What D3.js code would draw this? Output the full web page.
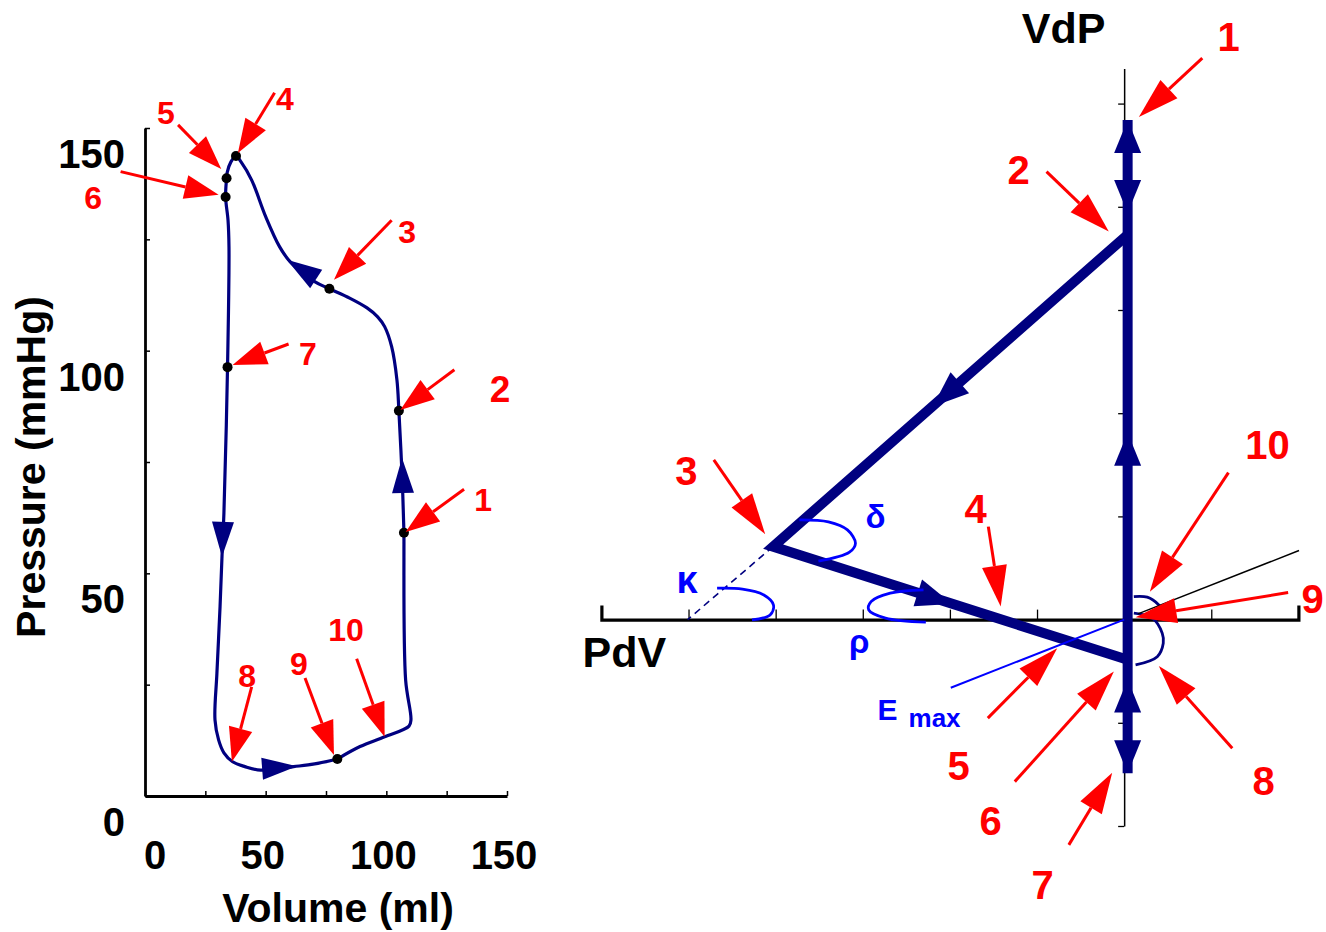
<!DOCTYPE html>
<html><head><meta charset="utf-8">
<script src="https://cdn.jsdelivr.net/npm/d3@7"></script>
<style>body{margin:0;background:#fff} svg{display:block}</style>
</head><body>
<svg id="c" width="1326" height="932"></svg>
<script>
// ================= LEFT PANEL DATA (pressure–volume loop) =================
const volTicks = [0,25,50,75,100,125,150];
const volLabels = [0,50,100,150];
const presTicks = [0,25,50,75,100,125,150];
const presLabels = [0,50,100,150];

const loopVolume   = [79.7,89.1,99.3,109.4,110.2,108.0,107.3,107.3,106.5,105.2,104.4,102.2,99.3,96.4,92.0,84.8,76.4,70.3,60.1,55.8,50.0,44.2,39.8,37.7,35.6,34.0,33.8,33.4,34.4,34.8,34.2,32.7,31.9,31.1,29.8,29.0,30.5,32.7,36.3,41.4,47.9,61.6,70.3,79.7];
const loopPressure = [8.3,11.1,13.3,15.7,17.1,26.0,57.5,59.1,72.1,86.5,93.4,100.9,105.4,107.6,109.6,111.8,113.9,115.5,120.0,123.3,130.1,138.3,142.4,143.7,142.4,139.9,138.7,134.5,129.3,123.3,96.3,63.5,53.7,42.5,27.6,17.1,12.6,9.7,7.7,6.6,5.8,6.6,7.2,8.3];

// marked points on the loop
const dotVolume   = [107.3,105.2,76.4,37.7,33.8,33.4,34.2,79.7];
const dotPressure = [59.1,86.5,113.9,143.7,138.7,134.5,96.3,8.3];

// direction arrows on the loop: tip and a point behind it
const loopArrowTipVol  = [106.5,58.8,31.9,63.0];
const loopArrowTipPres = [75.9,120.4,53.7,6.7];
const loopArrowFromVol  = [106.9,70.9,32.3,48.5];
const loopArrowFromPres = [68.3,116.1,61.3,6.1];

// red numbered callouts (left)
const leftNoteText   = ["1","2","3","4","5","6","7","8","9","10"];
const leftNoteTextVol  = [140.1,147.1,108.6,58.0,8.7,-21.5,67.5,42.3,63.8,83.3];
const leftNoteTextPres = [66.5,91.2,126.6,156.5,153.4,134.3,99.3,26.9,29.6,37.3];
const leftNoteTailVol  = [132.2,128.2,102.2,53.7,13.7,-10.1,59.5,44.2,66.3,87.7];
const leftNoteTailPres = [68.9,95.7,129.3,157.9,150.7,140.2,101.5,24.5,26.5,30.8];
const leftNoteTipVol   = [108.0,105.8,78.3,38.5,31.6,30.5,36.3,36.0,78.3,99.3];
const leftNoteTipPres  = [59.3,86.7,115.9,144.4,140.8,135.0,96.8,7.7,9.2,13.3];

// ================= RIGHT PANEL DATA (PdV / VdP diagram) =================
const pdvTicks = [-6,-5,-4,-3,-2,-1,0,1,2];
const vdpTicks = [-2,-1,0,1,2,3,4,5];

const stemPdV = [0.04,0.04];
const stemVdP = [4.84,-1.49];
const wedgePdV = [0.04,-4.03,0.04];
const wedgeVdP = [3.73,0.707,-0.39];

const stemArrowTip  = [4.84,3.94,1.81,-0.58,-1.49];
const stemArrowFrom = [4.46,4.21,1.50,-0.89,-1.16];
const wedgeArrowTipPdV = [-2.196,-1.975];
const wedgeArrowTipVdP = [2.065,0.152];
const wedgeArrowFromPdV = [0.04,-4.03];
const wedgeArrowFromVdP = [3.73,0.707];

const dashPdV = [-4.03,-5.01];
const dashVdP = [0.707,0.0];
const emaxPdV = [0.0,-1.99];
const emaxVdP = [0.0,-0.66];
const tangentPdV = [0.158,2.007];
const tangentVdP = [0.055,0.669];

const deltaArcPdV = [-3.727,-3.394,-3.176,-3.084,-3.153,-3.509];
const deltaArcVdP = [0.966,0.947,0.869,0.740,0.653,0.566];
const kappaArcPdV = [-4.672,-4.381,-4.135,-4.025,-4.064,-4.272];
const kappaArcVdP = [0.304,0.295,0.239,0.142,0.045,-0.003];
const rhoArcPdV = [-2.303,-2.685,-2.905,-2.932,-2.739,-2.276];
const rhoArcVdP = [0.288,0.256,0.174,0.094,0.014,-0.025];
const upperArcPdV = [0.111,0.265,0.398,0.437];
const upperArcVdP = [0.223,0.217,0.142,0.094];
const lowerArcPdV = [0.111,0.323,0.437,0.449,0.380,0.131];
const lowerArcVdP = [0.062,0.014,-0.132,-0.229,-0.359,-0.439];

const greekText = ["δ","κ","ρ"];
const greekPdV = [-2.853,-5.017,-3.040];
const greekVdP = [0.891,0.259,-0.322];

const rightNoteText = ["1","2","3","4","5","6","7","8","9","10"];
const rightNoteTextPdV = [1.199,-1.212,-5.024,-1.706,-1.901,-1.534,-0.937,1.600,2.163,1.646];
const rightNoteTextVdP = [5.646,4.358,1.441,1.072,-1.418,-1.951,-2.571,-1.563,0.201,1.693];
const rightNoteTailPdV = [0.897,-0.891,-4.71,-1.559,-1.565,-1.255,-0.635,1.241,1.882,1.197];
const rightNoteTailVdP = [5.44,4.34,1.547,0.901,-0.955,-1.570,-2.183,-1.246,0.262,1.424];
const rightNoteTipPdV  = [0.169,-0.176,-4.12,-1.417,-0.768,-0.118,-0.137,0.398,0.131,0.295];
const rightNoteTipVdP  = [4.87,3.76,0.828,0.126,-0.277,-0.504,-1.483,-0.449,0.023,0.271];

// ================= DRAWING =================
const svg = d3.select("#c");
const FONT = "'Liberation Sans', Arial, Helvetica, sans-serif";
const NAVY = "#000080", RED = "#ff0000", BLUE = "#0000ff";

function headPts(tip, from, L, W) {
  const dx = tip[0]-from[0], dy = tip[1]-from[1];
  const d = Math.hypot(dx,dy), ux = dx/d, uy = dy/d;
  const bx = tip[0]-ux*L, by = tip[1]-uy*L, nx = -uy, ny = ux;
  return {base:[bx,by], pts:[[tip[0],tip[1]],[bx+nx*W/2,by+ny*W/2],[bx-nx*W/2,by-ny*W/2]]};
}
function drawHead(g, tip, from, L, W, color) {
  const h = headPts(tip, from, L, W);
  g.append("polygon").attr("points", h.pts.map(p=>p.join(",")).join(" ")).attr("fill", color);
  return h;
}
function drawCallout(g, tail, tip, L, W, lw) {
  const h = headPts(tip, tail, L, W);
  g.append("line").attr("x1",tail[0]).attr("y1",tail[1]).attr("x2",h.base[0]).attr("y2",h.base[1])
    .attr("stroke",RED).attr("stroke-width",lw);
  g.append("polygon").attr("points", h.pts.map(p=>p.join(",")).join(" ")).attr("fill", RED);
}

// ---------- LEFT ----------
const xL = d3.scaleLinear().domain([0,150]).range([145,507]);
const yL = d3.scaleLinear().domain([0,150]).range([796,128]);
const gL = svg.append("g");

const axB = gL.append("g").attr("transform",`translate(0,${yL(0)})`)
  .call(d3.axisTop(xL).tickValues(volTicks).tickSize(5).tickSizeOuter(0).tickFormat(""));
const axLft = gL.append("g").attr("transform",`translate(${xL(0)},0)`)
  .call(d3.axisRight(yL).tickValues(presTicks).tickSize(5).tickSizeOuter(0).tickFormat(""));
[axB, axLft].forEach(a => {
  a.select(".domain").attr("stroke","#000").attr("stroke-width",2.8);
  a.selectAll(".tick line").attr("stroke","#000").attr("stroke-width",1.5);
});

gL.selectAll("text.xl").data(volLabels).join("text")
  .attr("x", d => Math.max(xL(d)-3, xL(0)+10)).attr("y", yL(0)+59)
  .attr("text-anchor","middle").attr("dominant-baseline","central")
  .attr("font-family",FONT).attr("font-weight","bold").attr("font-size",40).text(d=>d);
gL.selectAll("text.yl").data(presLabels).join("text")
  .attr("x", xL(0)-20).attr("y", d => yL(d)+26)
  .attr("text-anchor","end").attr("dominant-baseline","central")
  .attr("font-family",FONT).attr("font-weight","bold").attr("font-size",40).text(d=>d);

gL.append("text").attr("x",(xL(0)+xL(150))/2+12).attr("y",922)
  .attr("text-anchor","middle").attr("font-family",FONT).attr("font-weight","bold")
  .attr("font-size",41).text("Volume (ml)");
gL.append("text").attr("transform",`translate(45,${(yL(0)+yL(150))/2+5}) rotate(-90)`)
  .attr("text-anchor","middle").attr("font-family",FONT).attr("font-weight","bold")
  .attr("font-size",41).text("Pressure (mmHg)");

const loopLine = d3.line().x(d=>xL(d[0])).y(d=>yL(d[1])).curve(d3.curveCatmullRom.alpha(0.5));
gL.append("path").datum(loopVolume.map((v,i)=>[v,loopPressure[i]]))
  .attr("d",loopLine).attr("fill","none").attr("stroke",NAVY).attr("stroke-width",3.2)
  .attr("stroke-linejoin","round");

loopArrowTipVol.forEach((v,i)=>{
  drawHead(gL,[xL(v),yL(loopArrowTipPres[i])],[xL(loopArrowFromVol[i]),yL(loopArrowFromPres[i])],35,22,NAVY);
});

gL.selectAll("circle.dot").data(dotVolume).join("circle")
  .attr("cx",d=>xL(d)).attr("cy",(d,i)=>yL(dotPressure[i])).attr("r",5).attr("fill","#000");

leftNoteText.forEach((t,i)=>{
  drawCallout(gL,[xL(leftNoteTailVol[i]),yL(leftNoteTailPres[i])],[xL(leftNoteTipVol[i]),yL(leftNoteTipPres[i])],34,24,3);
});
gL.selectAll("text.ln").data(leftNoteText).join("text")
  .attr("x",(d,i)=>xL(leftNoteTextVol[i])).attr("y",(d,i)=>yL(leftNoteTextPres[i]))
  .attr("text-anchor","middle").attr("dominant-baseline","central")
  .attr("font-family",FONT).attr("font-weight","bold").attr("fill",RED)
  .attr("font-size",d => d==="2" ? 37 : 32).text(d=>d);

// ---------- RIGHT ----------
const xR = d3.scaleLinear().domain([-6,2]).range([601.4,1298.4]);
const yR = d3.scaleLinear().domain([-2,5.34]).range([826,68.5]);
const gR = svg.append("g");

const axH = gR.append("g").attr("transform",`translate(0,${yR(0)})`)
  .call(d3.axisTop(xR).tickValues(pdvTicks).tickSize(10).tickSizeOuter(14).tickFormat(""));
axH.select(".domain").attr("stroke","#000").attr("stroke-width",3.2);
axH.selectAll(".tick line").attr("stroke","#000").attr("stroke-width",1.3);
const axV = gR.append("g").attr("transform",`translate(${xR(0)},0)`)
  .call(d3.axisLeft(yR).tickValues(vdpTicks).tickSize(6).tickSizeOuter(0).tickFormat(""));
axV.select(".domain").attr("stroke","#000").attr("stroke-width",1.5);
axV.selectAll(".tick line").attr("stroke","#000").attr("stroke-width",1.3);

const lineR = d3.line().x(d=>xR(d[0])).y(d=>yR(d[1]));
const smoothR = d3.line().x(d=>xR(d[0])).y(d=>yR(d[1])).curve(d3.curveCatmullRom.alpha(0.5));

// dashed extension
gR.append("path").datum(dashPdV.map((v,i)=>[v,dashVdP[i]])).attr("d",lineR)
  .attr("stroke",NAVY).attr("stroke-width",1.6).attr("stroke-dasharray","7,5").attr("fill","none");

// thick cycle
gR.append("path").datum(stemPdV.map((v,i)=>[v,stemVdP[i]])).attr("d",lineR)
  .attr("stroke",NAVY).attr("stroke-width",10).attr("fill","none");
gR.append("path").datum(wedgePdV.map((v,i)=>[v,wedgeVdP[i]])).attr("d",lineR)
  .attr("stroke",NAVY).attr("stroke-width",10).attr("fill","none").attr("stroke-linejoin","miter");

stemArrowTip.forEach((t,i)=>{
  drawHead(gR,[xR(stemPdV[0]),yR(t)],[xR(stemPdV[0]),yR(stemArrowFrom[i])],33,27,NAVY);
});
wedgeArrowTipPdV.forEach((v,i)=>{
  drawHead(gR,[xR(v),yR(wedgeArrowTipVdP[i])],[xR(wedgeArrowFromPdV[i]),yR(wedgeArrowFromVdP[i])],36,28,NAVY);
});

// angle arcs
[[deltaArcPdV,deltaArcVdP,BLUE],[kappaArcPdV,kappaArcVdP,BLUE],[rhoArcPdV,rhoArcVdP,BLUE],
 [upperArcPdV,upperArcVdP,NAVY],[lowerArcPdV,lowerArcVdP,NAVY]].forEach(([xs,ys,c])=>{
  gR.append("path").datum(xs.map((v,i)=>[v,ys[i]])).attr("d",smoothR)
    .attr("stroke",c).attr("stroke-width",2.8).attr("fill","none");
});

// Emax and tangent lines
gR.append("path").datum(emaxPdV.map((v,i)=>[v,emaxVdP[i]])).attr("d",lineR)
  .attr("stroke",BLUE).attr("stroke-width",2).attr("fill","none");
gR.append("path").datum(tangentPdV.map((v,i)=>[v,tangentVdP[i]])).attr("d",lineR)
  .attr("stroke","#000").attr("stroke-width",1.5).attr("fill","none");

// red callouts
rightNoteText.forEach((t,i)=>{
  drawCallout(gR,[xR(rightNoteTailPdV[i]),yR(rightNoteTailVdP[i])],[xR(rightNoteTipPdV[i]),yR(rightNoteTipVdP[i])],41,25,3);
});
gR.selectAll("text.rn").data(rightNoteText).join("text")
  .attr("x",(d,i)=>xR(rightNoteTextPdV[i])).attr("y",(d,i)=>yR(rightNoteTextVdP[i]))
  .attr("text-anchor","middle").attr("dominant-baseline","central")
  .attr("font-family",FONT).attr("font-weight","bold").attr("fill",RED)
  .attr("font-size",40).text(d=>d);

// Greek labels
gR.selectAll("text.gk").data(greekText).join("text")
  .attr("x",(d,i)=>xR(greekPdV[i])).attr("y",(d,i)=>yR(greekVdP[i]))
  .attr("text-anchor","middle").attr("font-family",FONT).attr("font-weight","bold").attr("fill",BLUE)
  .attr("font-size",d => d==="κ" ? 38 : 33).text(d=>d);

// E max
gR.append("text").attr("x",xR(-2.831)).attr("y",yR(-0.972)).attr("font-family",FONT)
  .attr("font-weight","bold").attr("fill",BLUE).attr("font-size",30).text("E");
gR.append("text").attr("x",xR(-2.475)).attr("y",yR(-1.040)).attr("font-family",FONT)
  .attr("font-weight","bold").attr("fill",BLUE).attr("font-size",26).text("max");

// axis names
gR.append("text").attr("x",xR(-0.695)).attr("y",yR(5.734)).attr("text-anchor","middle")
  .attr("dominant-baseline","central").attr("font-family",FONT).attr("font-weight","bold")
  .attr("font-size",43).text("VdP");
gR.append("text").attr("x",xR(-5.736)).attr("y",yR(-0.318)).attr("text-anchor","middle")
  .attr("dominant-baseline","central").attr("font-family",FONT).attr("font-weight","bold")
  .attr("font-size",43).text("PdV");
</script>
</body></html>
